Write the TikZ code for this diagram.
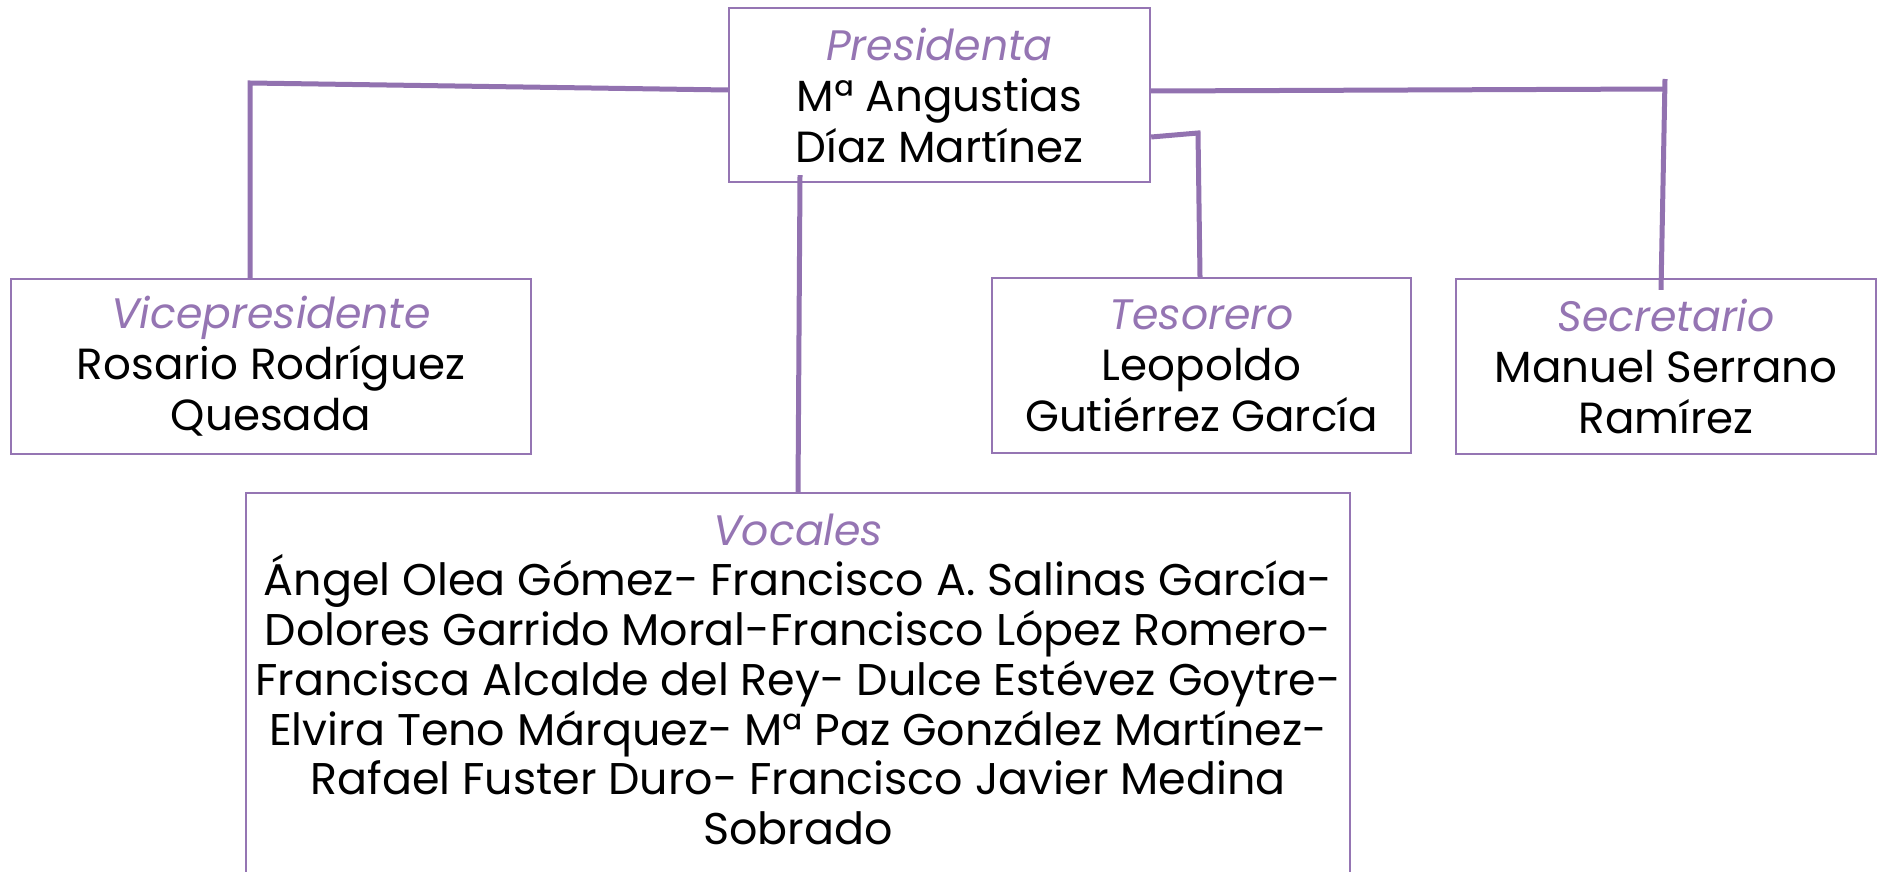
\documentclass[tikz,border=0pt]{standalone}
\usepackage{fontspec}
\setmainfont{Poppins}
\definecolor{purp}{HTML}{9575B3}
\definecolor{linec}{HTML}{9272B0}
\tikzset{
  box/.style={draw=purp, line width=1.2pt, rectangle, inner sep=0pt, align=center,
    font=\fontsize{21.8}{25.5}\selectfont, text=black},
  txt/.style={inner sep=0pt, align=center, font=\fontsize{22.2}{24.9}\selectfont, text=black},
  conn/.style={draw=linec, line width=2.5pt, line join=miter},
}
\newcommand{\ttl}[1]{{\color{purp}\fontsize{21.3}{25.5}\selectfont\itshape #1}}
\begin{document}
\begin{tikzpicture}[x=0.5pt, y=-0.5pt]
\useasboundingbox[fill=white] (0,0) rectangle (1878,872);
\clip (0,0) rectangle (1878,872);
\node[box, minimum width=210.5pt, minimum height=87pt] (pres) at (939.5,95)
  {\ttl{Presidenta}\\Mª Angustias\\Díaz Martínez};
\node[box, minimum width=260pt, minimum height=87.5pt] (vice) at (271,366.5)
  {\ttl{Vicepresidente}\\Rosario Rodríguez\\Quesada};
\node[box, minimum width=209.5pt, minimum height=87.5pt] (tes) at (1201.5,365.5)
  {\ttl{Tesorero}\\Leopoldo\\Gutiérrez García};
\node[box, minimum width=210pt, minimum height=87.5pt] (sec) at (1666,366.5)
  {\ttl{Secretario}\\Manuel Serrano\\Ramírez};
\node[box, minimum width=552pt, minimum height=260pt, anchor=north] (voc) at (798,492) {};
\node[txt, anchor=north] (voctxt) at (798,514)
  {\ttl{Vocales}\\
   Ángel Olea Gómez- Francisco A. Salinas García-\\
   Dolores Garrido Moral-Francisco López Romero-\\
   Francisca Alcalde del Rey- Dulce Estévez Goytre-\\
   Elvira Teno Márquez- Mª Paz González Martínez-\\
   Rafael Fuster Duro- Francisco Javier Medina\\
   Sobrado};
\coordinate (cv) at (250,83);
\coordinate (cs) at (1665,89);
\coordinate (cst) at (1665,79);
\coordinate (ct) at (1198,133);
\draw[conn] ([yshift=2.5pt]pres.west) -- (cv) -- ([xshift=-10.5pt]vice.north);
\draw[conn] ([yshift=2pt]pres.east) -- (cs);
\draw[conn] (cst) -- ([xshift=-2.5pt,yshift=-6pt]sec.north);
\draw[conn] ([yshift=-21pt]pres.east) -- (ct) -- ([xshift=-0.75pt]tes.north);
\draw[conn] ([xshift=-69.75pt,yshift=4pt]pres.south) -- (voc.north);
\end{tikzpicture}
\end{document}
